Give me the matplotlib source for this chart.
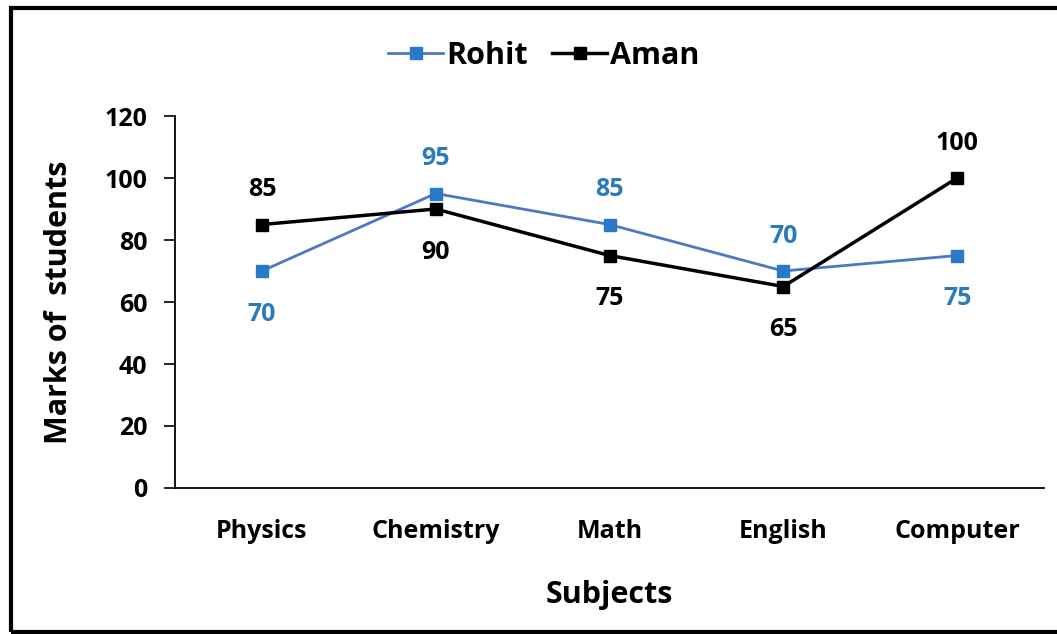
import matplotlib
matplotlib.use("Agg")
import matplotlib.pyplot as plt
from matplotlib.patches import Rectangle
from matplotlib.lines import Line2D

plt.rcParams['font.family'] = ['Open Sans', 'DejaVu Sans']
plt.rcParams['font.weight'] = 'bold'

subjects = ['Physics', 'Chemistry', 'Math', 'English', 'Computer']
rohit = [70, 95, 85, 70, 75]
aman = [85, 90, 75, 65, 100]
y_ticks = [0, 20, 40, 60, 80, 100, 120]

# which side of the marker each value label goes (1 = above, -1 = below)
rohit_side = [-1, 1, 1, 1, -1]
aman_side = [1, -1, -1, -1, 1]

blue_line = '#4f78c2'
blue_mark = '#2a78c8'
blue_text = '#2b7bbb'

fig = plt.figure(figsize=(10.57, 6.34), dpi=100)
ax = fig.add_axes([0.1656, 0.2303, 0.8221, 0.5867])

x = list(range(len(subjects)))
ax.plot(x, rohit, color=blue_line, lw=2, marker='s', ms=8,
        mfc=blue_mark, mec=blue_mark, label='Rohit', zorder=3)
ax.plot(x, aman, color='black', lw=2.5, marker='s', ms=9,
        mfc='black', mec='black', label='Aman', zorder=4)

for i in x:
    ax.annotate(str(rohit[i]), (i, rohit[i]), xytext=(0, 28 * rohit_side[i] - 3),
                textcoords='offset points', ha='center', va='center',
                fontsize=18, fontweight='bold', color=blue_text)
    ax.annotate(str(aman[i]), (i, aman[i]), xytext=(0, 28 * aman_side[i] - 3),
                textcoords='offset points', ha='center', va='center',
                fontsize=18, fontweight='bold', color='black')

ax.set_xlim(-0.5, 4.5)
ax.set_ylim(0, 120)
ax.set_yticks(y_ticks)
ax.set_xticks(x)
ax.set_xticklabels(subjects)
ax.tick_params(axis='x', length=0, pad=22, labelsize=18)
ax.tick_params(axis='y', length=8, width=1.2, pad=12, labelsize=18)
for lab in ax.get_xticklabels() + ax.get_yticklabels():
    lab.set_fontweight('bold')

for s in ['top', 'right']:
    ax.spines[s].set_visible(False)
for s in ['left', 'bottom']:
    ax.spines[s].set_linewidth(1.3)

ax.set_xlabel('Subjects', fontsize=22, fontweight='bold', labelpad=26)
ax.set_ylabel('Marks of  students', fontsize=22, fontweight='bold', labelpad=22)

handles = [Line2D([], [], color=blue_line, lw=2, marker='s', ms=8,
                  mfc=blue_mark, mec=blue_mark),
           Line2D([], [], color='black', lw=2.5, marker='s', ms=8,
                  mfc='black', mec='black')]
fig.legend(handles, ['Rohit', 'Aman'], loc='center', bbox_to_anchor=(0.5147, 0.912),
           ncol=2, frameon=False, handlelength=1.8, handletextpad=0.1,
           columnspacing=0.8, prop={'size': 22, 'weight': 'bold'})

# outer frame round the chart
fig.patches.append(Rectangle((11 / 1057, 2 / 634), 1.1, 624 / 634,
                             transform=fig.transFigure, fill=False,
                             edgecolor='black', lw=3))

fig.savefig('out.png', dpi=100, facecolor='white')
